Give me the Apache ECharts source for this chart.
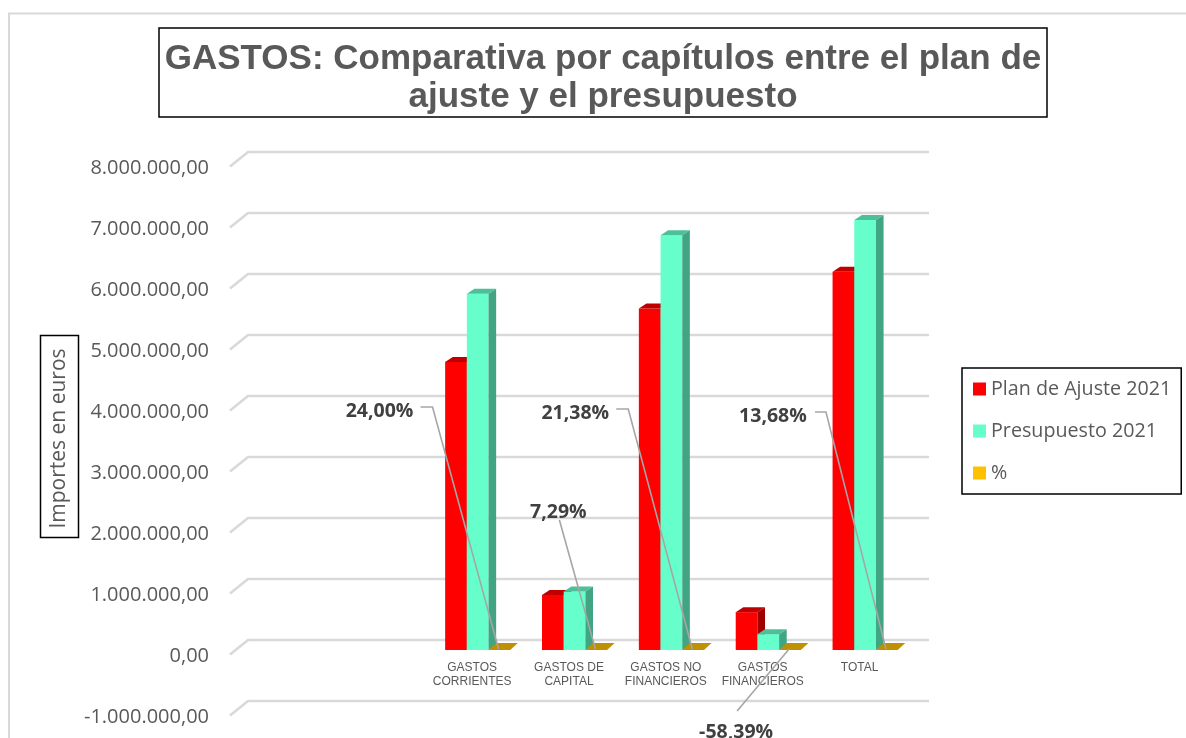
<!DOCTYPE html>
<html><head><meta charset="utf-8">
<style>html,body{margin:0;padding:0;background:#fff}#c{width:1186px;height:738px}</style>
<script src="https://cdn.jsdelivr.net/npm/echarts@6/dist/echarts.min.js"></script>
</head><body><div id="c"></div>
<script>
const categories = ['', '', 'GASTOS\nCORRIENTES', 'GASTOS DE\nCAPITAL', 'GASTOS NO\nFINANCIEROS', 'GASTOS\nFINANCIEROS', 'TOTAL'];
const planAjuste = [null, null, 4720000, 900000, 5600000, 620000, 6200000];
const presupuesto = [null, null, 5840000, 960000, 6800000, 260000, 7050000];
const porcentaje = [null, null, 24.00, 7.29, 21.38, -58.39, 13.68];
const yTicks = [-1000000, 0, 1000000, 2000000, 3000000, 4000000, 5000000, 6000000, 7000000, 8000000];

const fmtEs = v => {
  const s = Math.abs(v).toFixed(0).replace(/\B(?=(\d{3})+$)/g, '.');
  return (v < 0 ? '-' : '') + s + ',00';
};
const fmtPct = v => v.toFixed(2).replace('.', ',') + '%';

const DARK = {
  'Plan de Ajuste 2021': {front:'#FF0000', top:'#C00000', side:'#A00000'},
  'Presupuesto 2021': {front:'#66FFCC', top:'#4DC09A', side:'#41A583'},
  '%': {front:'#FFC000', top:'#BF9000', side:'#8F6C00'}
};
const BAR_W = 21.7, DX = 7.6, DY = 5, START = -27;

function barRender(name, order) {
  const c = DARK[name];
  return function (params, api) {
    const idx = api.value(0), val = api.value(1);
    const p = api.coord([idx, val]), z = api.coord([idx, 0]);
    const x0 = z[0] + START + order * BAR_W, x1 = x0 + BAR_W;
    const yt = Math.min(p[1], z[1]), yb = z[1];
    const dy = order === 2 ? 7 : DY;
    const kids = [];
    if (yb - yt > 0.5) kids.push({type:'rect', shape:{x:x0, y:yt, width:BAR_W, height:yb-yt}, style:{fill:c.front}});
    kids.push({type:'polygon', shape:{points:[[x0,yt],[x1,yt],[x1+DX,yt-dy],[x0+DX,yt-dy]]}, style:{fill:c.top}});
    kids.push({type:'polygon', shape:{points:[[x1,yt],[x1+DX,yt-dy],[x1+DX,yb-dy],[x1,yb]]}, style:{fill:c.side}});
    return {type:'group', children:kids};
  };
}

// label placement relative to the anchor on the % marks: text centre, then elbow / start of leader
const leaderLayout = {
  2: {tx:-119, ty:-238, pts:[[-78,-242],[-66,-242]]},
  3: {tx:-37,  ty:-137, pts:[[-36,-129]]},
  4: {tx:-117, ty:-236, pts:[[-76,-240],[-64,-240]]},
  5: {tx:-53,  ty:83,   pts:[[-52,62]]},
  6: {tx:-113, ty:-233, pts:[[-71,-237],[-60,-237]]}
};
function leaderRender(params, api) {
  const idx = api.value(0), val = api.value(1);
  const z = api.coord([idx, 0]);
  const ax = z[0] + START + 2 * BAR_W + 10, ay = z[1] - 1;
  const L = leaderLayout[idx];
  const pts = L.pts.map(q => [ax + q[0], ay + q[1]]).concat([[ax, ay]]);
  return {type:'group', children:[
    {type:'polyline', shape:{points:pts}, style:{stroke:'#A6A6A6', lineWidth:1.6, fill:null}},
    {type:'text', style:{text:fmtPct(val), x:ax+L.tx, y:ay+L.ty, align:'center', verticalAlign:'middle',
      font:'bold 19.5px "Open Sans"', fill:'#404040'}}
  ]};
}
function gridRender(params, api) {
  const cs = params.coordSys;
  const y = api.coord([0, api.value(0)])[1];
  return {type:'polyline', shape:{points:[[cs.x, y+4.5],[cs.x+18, y-10],[cs.x+cs.width+21, y-10]]},
    style:{stroke:'#D9D9D9', lineWidth:2.6, fill:null}};
}
const rows = arr => arr.map((v,i)=>[i,v]).filter(r=>r[1]!==null);

const chart = echarts.init(document.getElementById('c'), null, {renderer:'canvas'});
chart.setOption({
  animation:false,
  backgroundColor:'#fff',
  graphic:[{type:'rect', z:-10, shape:{x:9,y:13.5,width:1300,height:900}, style:{fill:'#fff',stroke:'#D9D9D9',lineWidth:2}}],
  title:{
    text:'GASTOS: Comparativa por capítulos entre el plan de\najuste y el presupuesto',
    left:597, top:28,
    textAlign:'center',
    textStyle:{color:'#595959', fontFamily:'"Liberation Sans"', fontWeight:'bold', fontSize:35, lineHeight:38},
    backgroundColor:'#fff', borderColor:'#000', borderWidth:1.5, padding:[12,6,1,6]
  },
  legend:{
    orient:'vertical', left:962, top:368, padding:[11,10,11,11], itemGap:22,
    itemWidth:13, itemHeight:13, icon:'rect',
    borderColor:'#000', borderWidth:1.5, backgroundColor:'#fff',
    data:['Plan de Ajuste 2021','Presupuesto 2021','%'],
    textStyle:{color:'#595959', fontFamily:'"Open Sans"', fontSize:19.7, lineHeight:20}
  },
  grid:{left:230, top:162, width:678, height:549, containLabel:false, outerBoundsMode:'none'},
  xAxis:{type:'category', data:categories, axisLine:{show:false, onZero:false}, axisTick:{show:false}, splitLine:{show:false},
    axisLabel:{interval:0, color:'#595959', fontFamily:'"Liberation Sans"', fontSize:12, lineHeight:14, margin:-50}},
  yAxis:{type:'value', min:-1000000, max:8000000, interval:1000000,
    axisLine:{show:false}, axisTick:{show:false}, splitLine:{show:false},
    axisLabel:{formatter:fmtEs, color:'#595959', fontFamily:'"Open Sans"', fontSize:20, margin:21, verticalAlign:'top', lineHeight:13},
    name:'Importes en euros', nameLocation:'middle', nameGap:151.5, nameRotate:90, nameMoveOverlap:false,
    nameTextStyle:{color:'#595959', fontFamily:'"Open Sans"', fontSize:21, borderColor:'#000', borderWidth:1.5, padding:[8.5,13,8.5,9]}
  },
  series:[
    {type:'custom', name:'grid', silent:true, z:1, renderItem:gridRender, data:yTicks.map(v=>[v]), encode:{y:0}},
    {type:'custom', name:'Plan de Ajuste 2021', z:2, itemStyle:{color:DARK['Plan de Ajuste 2021'].front}, renderItem:barRender('Plan de Ajuste 2021',0), data:rows(planAjuste), encode:{x:0,y:1}},
    {type:'custom', name:'Presupuesto 2021', z:3, itemStyle:{color:DARK['Presupuesto 2021'].front}, renderItem:barRender('Presupuesto 2021',1), data:rows(presupuesto), encode:{x:0,y:1}},
    {type:'custom', name:'%', z:4, itemStyle:{color:DARK['%'].front}, renderItem:barRender('%',2), data:rows(porcentaje), encode:{x:0,y:1}},
    {type:'custom', name:'labels', silent:true, z:5, renderItem:leaderRender, data:rows(porcentaje), encode:{x:0,y:1}}
  ]
});
</script></body></html>
